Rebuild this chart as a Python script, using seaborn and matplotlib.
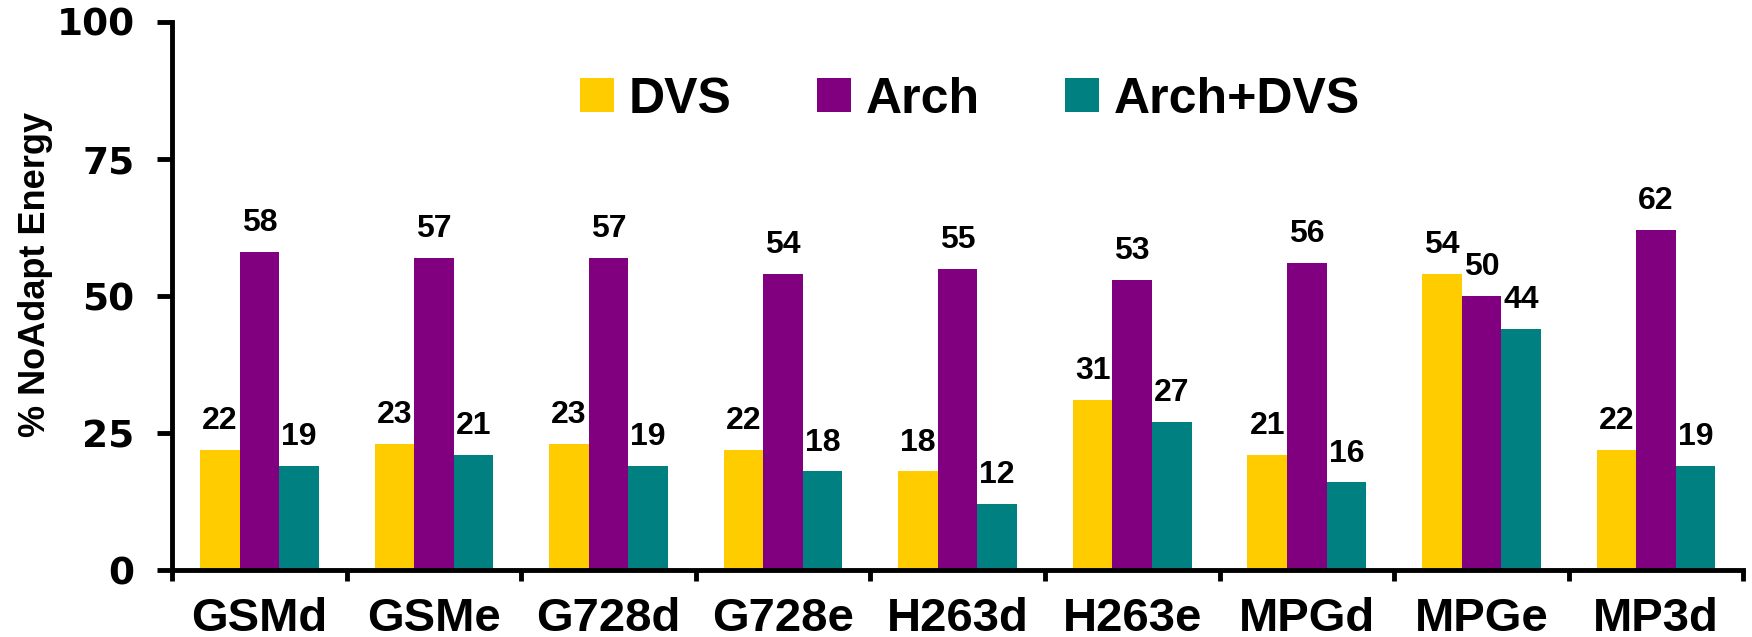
import matplotlib
matplotlib.use("Agg")
import matplotlib.pyplot as plt
import seaborn as sns
import pandas as pd
import numpy as np

# Benchmarks and energy (percent of the non-adaptive baseline)
benchmarks = ["GSMd", "GSMe", "G728d", "G728e", "H263d", "H263e", "MPGd", "MPGe", "MP3d"]
dvs = [22, 23, 23, 22, 18, 31, 21, 54, 22]
arch = [58, 57, 57, 54, 55, 53, 56, 50, 62]
arch_dvs = [19, 21, 19, 18, 12, 27, 16, 44, 19]
series_names = ["DVS", "Arch", "Arch+DVS"]
y_ticks = [0, 25, 50, 75, 100]

colors = ["#FFCC00", "#800080", "#008080"]

df = pd.DataFrame({
    "benchmark": benchmarks * 3,
    "energy": dvs + arch + arch_dvs,
    "config": [s for s in series_names for _ in benchmarks],
})

sns.set_theme(style="white")
plt.rcParams["font.family"] = ["Liberation Sans", "DejaVu Sans"]
plt.rcParams.update({
    "text.color": "black",
    "axes.labelcolor": "black",
    "xtick.color": "black",
    "ytick.color": "black",
})

fig = plt.figure(figsize=(17.52, 6.37), dpi=100)
ax = fig.add_axes([0.0982, 0.105, 0.8968, 0.8605])

sns.barplot(data=df, x="benchmark", y="energy", hue="config",
            order=benchmarks, hue_order=series_names, palette=colors,
            width=0.68, saturation=1, linewidth=0, errorbar=None, ax=ax)

# value labels above each bar
for cont in ax.containers:
    ax.bar_label(cont, fmt="%d", padding=10, fontsize=23, fontweight="bold",
                 fontfamily="Liberation Sans", color="black")

ax.set_ylim(0, 100)
ax.set_xlim(-0.5, len(benchmarks) - 0.5)

# y axis
ax.set_yticks(y_ticks)
ax.set_yticklabels([str(t) for t in y_ticks], fontsize=27, fontweight="heavy",
                   fontfamily="DejaVu Sans")
ax.set_ylabel("% NoAdapt Energy", fontsize=26, fontweight="bold")
ax.yaxis.set_label_coords(-0.076, 0.54)

# x axis: tick marks at group boundaries, labels centred on groups
centers = np.arange(len(benchmarks))
ax.set_xticks(np.arange(len(benchmarks) + 1) - 0.5)
ax.set_xticklabels([])
ax.set_xticks(centers, minor=True)
ax.set_xticklabels(benchmarks, minor=True, fontsize=34, fontweight="bold")
ax.tick_params(axis="x", which="minor", length=0, pad=19)
ax.tick_params(axis="x", which="major", direction="out", length=8, width=3.5,
               color="black", bottom=True)
ax.tick_params(axis="y", direction="out", length=11, width=3.5, color="black",
               left=True, pad=16)
ax.set_xlabel("")

for side in ["top", "right"]:
    ax.spines[side].set_visible(False)
for side in ["left", "bottom"]:
    ax.spines[side].set_color("black")
    ax.spines[side].set_linewidth(3.5)

handles, labels = ax.get_legend_handles_labels()
ax.legend(handles, labels, loc="center", bbox_to_anchor=(0.508, 0.858), ncol=3,
          frameon=False, prop={"family": "Liberation Sans", "weight": "bold", "size": 36},
          handlelength=0.68, handleheight=0.68, handletextpad=0.3,
          columnspacing=1.7)

fig.savefig("out.png", dpi=100)
